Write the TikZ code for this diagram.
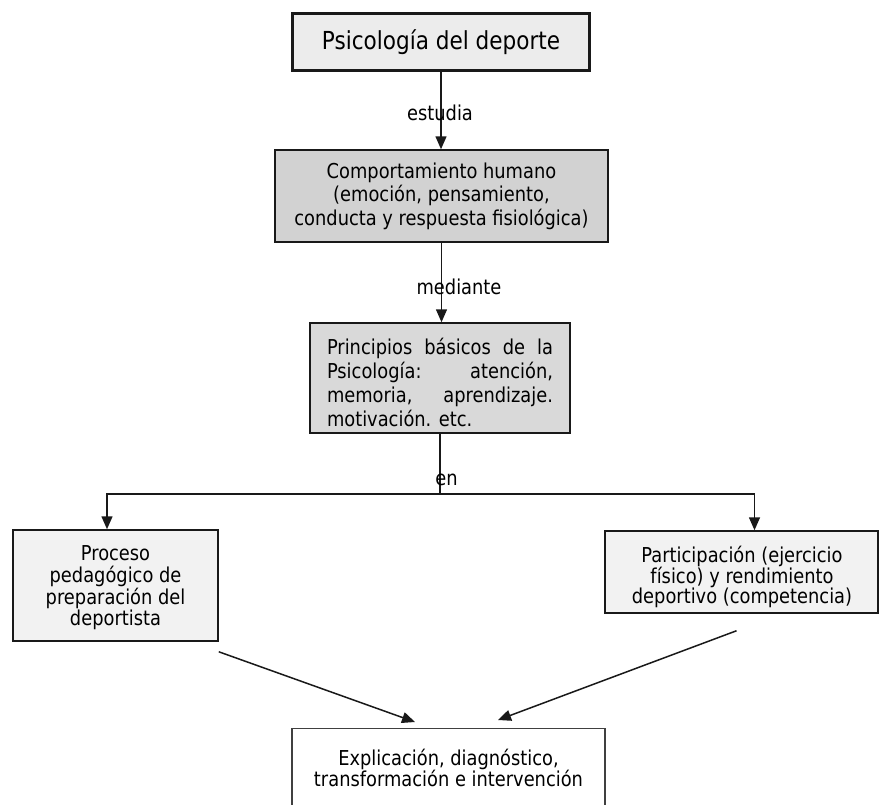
\documentclass[tikz,border=0pt]{standalone}
\usepackage{fontspec}
\setmainfont{DejaVu Sans}[FakeStretch=0.87]
\usetikzlibrary{arrows.meta}
\begin{document}
\begin{tikzpicture}[x=1pt,y=-1pt,
  box/.style={draw=black!90, line width=1.5pt, inner sep=0pt, align=center},
  txt/.style={inner sep=0pt, align=center},
  conn/.style={line width=1.5pt, draw=black!90},
  tip/.style={conn, -{Triangle[length=13pt,width=11pt]}},
  lbl/.style={inner sep=0pt, font=\fontsize{20.5}{24}\selectfont}]
\useasboundingbox (0,0) rectangle (880,804);

% title box
\node[box, line width=3pt, fill=gray!15, minimum width=297pt, minimum height=57pt,
      font=\fontsize{24.8}{28}\selectfont] (psi) at (441,42) {Psicología del deporte};

% behaviour box
\node[box, fill=gray!35, minimum width=333pt, minimum height=92pt,
      font=\fontsize{20.5}{23.5}\selectfont] (comp) at (441.5,196)
  {Comportamiento humano\\(emoción, pensamiento,\\conducta y respuesta fisiológica)};

% principles box (justified paragraph)
\node[box, fill=gray!30, minimum width=260pt, minimum height=110pt] (princ) at (440,378) {};
\node[inner sep=0pt, text width=226pt, align=justify,
      font=\fontsize{20.5}{24}\selectfont] (princtxt) at (440,382)
  {\parindent=0pt\hyphenpenalty=10000\exhyphenpenalty=10000\tolerance=10000
   Principios básicos de la\linebreak Psicología: atención,\linebreak
   memoria, aprendizaje.\linebreak motivación. etc.};

% two application fields
\node[box, fill=gray!10, minimum width=205pt, minimum height=111pt] (proc) at (115.5,585.5) {};
\node[txt, font=\fontsize{20.5}{21.7}\selectfont] (proctxt) at (115.5,588)
  {Proceso\\pedagógico de\\preparación del\\deportista};

\node[box, fill=gray!10, minimum width=273pt, minimum height=82pt] (part) at (741.5,572) {};
\node[txt, font=\fontsize{20.5}{20}\selectfont] (parttxt) at (742,577)
  {Participación (ejercicio\\físico) y rendimiento\\deportivo (competencia)};

% outcome box, running off the lower edge
\node[box, draw=black!75, line width=1.2pt, minimum width=313pt, minimum height=100pt,
      anchor=north] (expl) at (448.5,728) {};
\node[txt, font=\fontsize{20.5}{19}\selectfont] (expltxt) at (448.5,768)
  {Explicación, diagnóstico,\\transformación e intervención};

% connectors
\draw[tip] (psi.south) -- (psi.south |- comp.north);
\node[lbl] (estudia) at (440,113) {estudia};

\draw[tip] (comp.south) -- (comp.south |- princ.north);
\node[lbl] (mediante) at (459,287) {mediante};

\coordinate (split) at (440,494);
\draw[conn] (princ.south) -- (split);
\draw[tip] (split) -| ([xshift=-8.5pt]proc.north);
\draw[tip] (split) -| ([xshift=13pt]part.north);
\node[lbl] (en) at (446.5,480) {en};

\draw[tip] ([shift={(0,10)}]proc.south east) -- ([shift={(-33.5,-6)}]expl.north);
\draw[tip] ([shift={(-5,17)}]part.south) -- ([shift={(49.5,-8)}]expl.north);
\end{tikzpicture}
\end{document}
